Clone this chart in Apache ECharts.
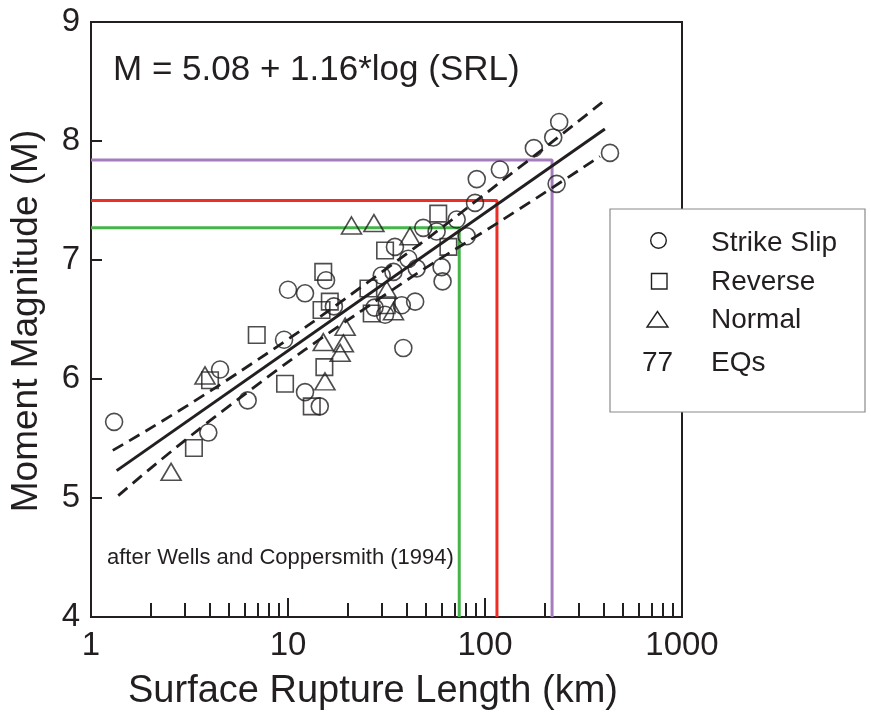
<!DOCTYPE html>
<html>
<head>
<meta charset="utf-8">
<title>Moment Magnitude vs Surface Rupture Length</title>
<script src="https://cdn.jsdelivr.net/npm/echarts@6/dist/echarts.min.js"></script>
<style>
  html, body { margin: 0; padding: 0; background: #fff; }
  #chart { width: 871px; height: 712px; }
</style>
</head>
<body>
<div id="chart"></div>
<script>
// Earthquakes: [surface rupture length (km), moment magnitude]
const strikeSlip = [
  [1.31, 5.64], [3.94, 5.55], [6.24, 5.82], [4.52, 6.08], [9.55, 6.33],
  [10.0, 6.75], [12.2, 6.72], [15.6, 6.83], [17.1, 6.61], [12.2, 5.89],
  [14.5, 5.77], [29.9, 6.87], [34.3, 6.90], [27.5, 6.60], [31.1, 6.54],
  [37.8, 6.62], [44.2, 6.65], [38.5, 6.26], [34.9, 7.11], [40.8, 7.01],
  [45.0, 6.93], [48.6, 7.27], [56.8, 7.24], [60.2, 6.94], [60.9, 6.82],
  [71.8, 7.34], [80.7, 7.20], [89, 7.48], [90.8, 7.68], [119, 7.76],
  [177, 7.94], [222, 8.03], [238, 8.16], [231, 7.64], [431, 7.90]
];
const reverse = [
  [3.33, 5.42], [4.02, 5.99], [6.94, 6.37], [9.66, 5.96], [15.1, 6.90],
  [16.3, 6.65], [14.8, 6.58], [25.6, 6.76], [26.6, 6.55], [31.7, 6.62],
  [31.1, 7.08], [57.9, 7.39], [65.2, 7.11], [15.3, 6.10], [13.2, 5.77]
];
const normal = [
  [2.55, 5.22], [3.79, 6.03], [21.0, 7.29], [27.3, 7.31], [41.6, 7.20],
  [31.7, 6.75], [34.3, 6.57], [19.5, 6.44], [15.1, 6.31], [19.1, 6.30],
  [18.4, 6.22], [15.4, 5.98]
];

// Regression M = 5.08 + 1.16*log(SRL) and its bounds
const regressionLine = [[1.35, 5.23], [406, 8.10]];
const upperBound = [[1.29, 5.40], [5, 6.00], [30, 6.90], [150, 7.78], [411, 8.35]];
const lowerBound = [[1.375, 5.02], [5, 5.77], [30, 6.69], [150, 7.43], [383, 7.87]];

// Example magnitude read-offs
const readGreen  = [[1, 7.27], [74, 7.27], [74, 4]];
const readRed    = [[1, 7.50], [115, 7.50], [115, 4]];
const readPurple = [[1, 7.84], [219, 7.84], [219, 4]];

// Axis ticks
const xMajorTicks = [1, 10, 100, 1000];
const xMinorTicks = [2, 3, 4, 5, 6, 7, 8, 9, 20, 30, 40, 50, 60, 70, 80, 90,
                     200, 300, 400, 500, 600, 700, 800, 900];
const yMin = 4, yMax = 9;

const INK = '#231f20';
const FONT = '"Liberation Sans", Arial, Helvetica, sans-serif';

const chart = echarts.init(document.getElementById('chart'), null, { renderer: 'canvas' });

const markerStyle = { color: 'rgba(0,0,0,0)', borderColor: INK, borderWidth: 1.6 };

function scatter(name, data, symbol, size) {
  return {
    name, type: 'scatter', data, symbol, symbolSize: size,
    itemStyle: markerStyle, z: 5, silent: true
  };
}
function line(name, data, color, width, type, z, smooth) {
  return {
    name, type: 'line', data, symbol: 'none', smooth: !!smooth,
    lineStyle: { color, width, type }, z, silent: true
  };
}

chart.setOption({
  animation: false,
  backgroundColor: '#fff',
  grid: {
    left: 91, right: 189, top: 22, bottom: 95,
    show: true, borderColor: INK, borderWidth: 2, backgroundColor: 'transparent'
  },
  xAxis: [
    {
      type: 'log', logBase: 10, min: 1, max: 1000, position: 'bottom',
      axisLine: { lineStyle: { color: INK, width: 2 } },
      axisTick: { inside: true, length: 19, customValues: xMajorTicks, lineStyle: { color: INK, width: 2 } },
      axisLabel: {
        customValues: xMajorTicks, color: INK, fontSize: 33, fontFamily: FONT, margin: 12,
        formatter: v => String(Math.round(v))
      },
      splitLine: { show: false }
    },
    {
      type: 'log', logBase: 10, min: 1, max: 1000, position: 'bottom',
      axisLine: { show: false },
      axisTick: { inside: true, length: 14, customValues: xMinorTicks, lineStyle: { color: INK, width: 2 } },
      axisLabel: { show: false },
      splitLine: { show: false }
    }
  ],
  yAxis: {
    type: 'value', min: yMin, max: yMax, interval: 1,
    axisLine: { lineStyle: { color: INK, width: 2 } },
    axisTick: { inside: true, length: 11, lineStyle: { color: INK, width: 2 } },
    axisLabel: { color: INK, fontSize: 33, fontFamily: FONT, margin: 11 },
    splitLine: { show: false }
  },
  series: [
    line('green', readGreen, '#46b549', 3, 'solid', 1),
    line('red', readRed, '#ee2e24', 3, 'solid', 1),
    line('purple', readPurple, '#a57cbd', 3, 'solid', 1),
    line('regression', regressionLine, INK, 3, 'solid', 3),
    line('upper', upperBound, INK, 2.8, [12, 7], 3, true),
    line('lower', lowerBound, INK, 2.8, [12, 7], 3, true),
    scatter('Strike Slip', strikeSlip, 'circle', 17),
    scatter('Reverse', reverse, 'rect', 16.5),
    scatter('Normal', normal, 'triangle', [20, 17])
  ],
  graphic: [
    {
      type: 'text', x: 113, y: 70,
      style: { text: 'M = 5.08 + 1.16*log (SRL)', font: '35px ' + FONT, fill: INK, verticalAlign: 'middle' }
    },
    {
      type: 'text', x: 107, y: 558,
      style: { text: 'after Wells and Coppersmith (1994)', font: '22px ' + FONT, fill: INK, verticalAlign: 'middle' }
    },
    {
      type: 'text', x: 373, y: 692,
      style: { text: 'Surface Rupture Length (km)', font: '38px ' + FONT, fill: INK, align: 'center', verticalAlign: 'middle' }
    },
    {
      type: 'text', x: 27, y: 321, rotation: Math.PI / 2,
      style: { text: 'Moment Magnitude (M)', font: '37px ' + FONT, fill: INK, align: 'center', verticalAlign: 'middle' }
    },
    // legend box
    {
      type: 'group',
      children: [
        { type: 'rect', shape: { x: 610, y: 209, width: 255, height: 203 },
          style: { fill: '#fff', stroke: '#8a8a8a', lineWidth: 1.2 } },
        { type: 'circle', shape: { cx: 658.5, cy: 240.5, r: 7.8 },
          style: { fill: 'none', stroke: INK, lineWidth: 1.4 } },
        { type: 'rect', shape: { x: 651.5, y: 273.5, width: 15.5, height: 15.5 },
          style: { fill: 'none', stroke: INK, lineWidth: 1.4 } },
        { type: 'polygon', shape: { points: [[657.5, 311.5], [647, 327], [668, 327]] },
          style: { fill: 'none', stroke: INK, lineWidth: 1.4 } },
        { type: 'text', x: 711, y: 243, style: { text: 'Strike Slip', font: '28px ' + FONT, fill: INK, verticalAlign: 'middle' } },
        { type: 'text', x: 711, y: 282, style: { text: 'Reverse', font: '28px ' + FONT, fill: INK, verticalAlign: 'middle' } },
        { type: 'text', x: 711, y: 320, style: { text: 'Normal', font: '28px ' + FONT, fill: INK, verticalAlign: 'middle' } },
        { type: 'text', x: 642, y: 363, style: { text: '77', font: '28px ' + FONT, fill: INK, verticalAlign: 'middle' } },
        { type: 'text', x: 711, y: 363, style: { text: 'EQs', font: '28px ' + FONT, fill: INK, verticalAlign: 'middle' } }
      ]
    }
  ]
});
</script>
</body>
</html>
